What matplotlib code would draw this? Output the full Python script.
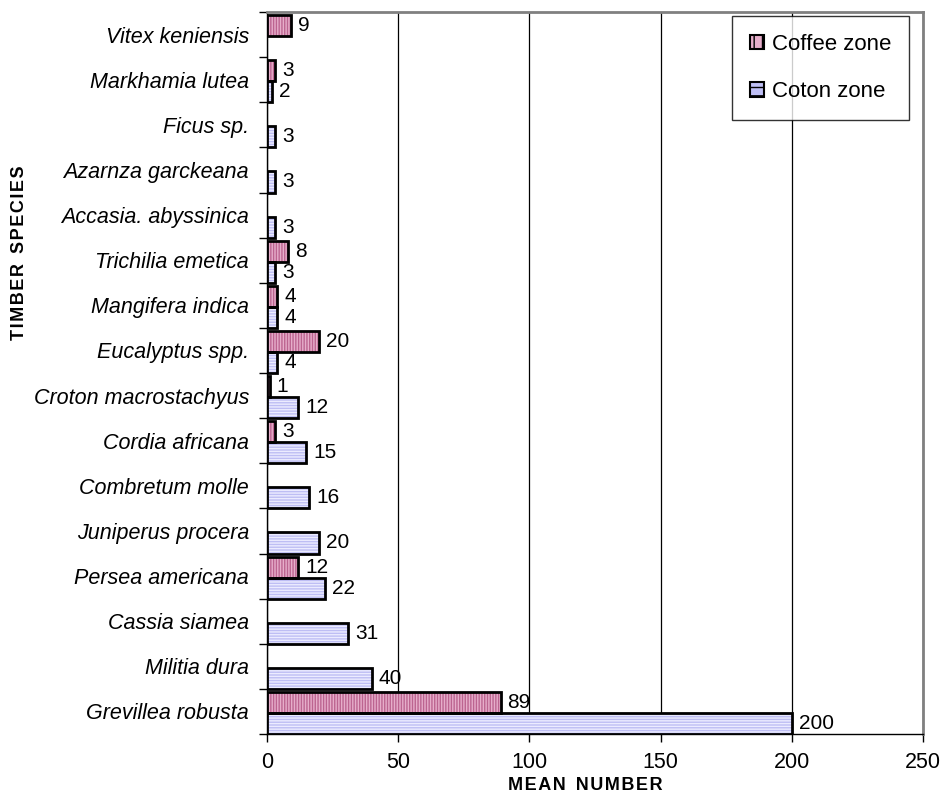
import matplotlib
matplotlib.use("Agg")
import matplotlib.pyplot as plt
import numpy as np
from matplotlib.patches import Patch

plt.rcParams['font.family'] = ['Liberation Sans', 'DejaVu Sans']
plt.rcParams['hatch.linewidth'] = 1.0

species = ["Grevillea robusta", "Militia dura", "Cassia siamea", "Persea americana",
           "Juniperus procera", "Combretum molle", "Cordia africana", "Croton macrostachyus",
           "Eucalyptus spp.", "Mangifera indica", "Trichilia emetica", "Accasia. abyssinica",
           "Azarnza garckeana", "Ficus sp.", "Markhamia lutea", "Vitex keniensis"]
coffee = [89, None, None, 12, None, None, 3, 1, 20, 4, 8, None, None, None, 3, 9]
coton = [200, 40, 31, 22, 20, 16, 15, 12, 4, 4, 3, 3, 3, 3, 2, None]
xticks = [0, 50, 100, 150, 200, 250]

fig = plt.figure(figsize=(9.42, 7.96), dpi=100)
ax = fig.add_axes([267/942, 1-734/796, (923-267)/942, (734-12)/796])

h = 0.466
y = np.arange(len(species))
coffee_face, coffee_hatch = '#E6AECA', '#BC6490'
coton_face, coton_hatch = '#BEBEF4', '#ECECFF'
fs = 15.5


def spaced(s):
    return '  '.join('\u200a'.join(w) for w in s.split(' '))


for i, (cf, ct) in enumerate(zip(coffee, coton)):
    if cf is not None:
        yc = i - 0.034 + h/2
        ax.barh(yc, cf, height=h, color=coffee_face, edgecolor=coffee_hatch,
                hatch='|'*6, linewidth=0, zorder=3)
        ax.barh(yc, cf, height=h, fill=False, edgecolor='black', linewidth=2, zorder=4)
        ax.annotate(str(cf), (cf, yc), xytext=(5, 0), textcoords='offset points',
                    va='center', ha='left', fontsize=15, zorder=5)
    if ct is not None:
        yc = i - 0.5 + h/2
        ax.barh(yc, ct, height=h, color=coton_face, edgecolor=coton_hatch,
                hatch='-'*6, linewidth=0, zorder=3)
        ax.barh(yc, ct, height=h, fill=False, edgecolor='black', linewidth=2, zorder=4)
        ax.annotate(str(ct), (ct, yc), xytext=(5, 0), textcoords='offset points',
                    va='center', ha='left', fontsize=15, zorder=5)

ax.set_xlim(0, 250)
ax.set_ylim(-0.5, len(species) - 0.5)
ax.set_xticks(xticks)
ax.set_xticklabels([str(t) for t in xticks], fontsize=fs)
ax.set_yticks(y)
ax.set_yticklabels(species, fontsize=fs, style='italic')
ax.set_yticks(np.arange(len(species) + 1) - 0.5, minor=True)
ax.tick_params(axis='y', which='major', length=0, pad=13)
ax.tick_params(axis='y', which='minor', length=6, width=1, direction='out')
ax.tick_params(axis='x', length=6, width=1, direction='out', pad=7)
ax.grid(axis='x', color='black', linewidth=0.9, zorder=0)
ax.set_axisbelow(True)

for s in ['top', 'right']:
    ax.spines[s].set_color('#808080')
    ax.spines[s].set_linewidth(2)
ax.spines['left'].set_linewidth(1)
ax.spines['bottom'].set_linewidth(1)

fig.text(585/942, 1-786/796, spaced('MEAN NUMBER'), fontsize=13, fontweight='bold',
         ha='center', va='center')
fig.text(20/942, 1-253/796, spaced('TIMBER SPECIES'), rotation=90, fontsize=13,
         fontweight='bold', ha='center', va='center')

handles = [Patch(facecolor=coffee_face, edgecolor='black', hatch='||', linewidth=1.5, label='Coffee zone'),
           Patch(facecolor=coton_face, edgecolor='black', hatch='--', linewidth=1.5, label='Coton zone')]
leg = ax.legend(handles=handles, loc='upper right', bbox_to_anchor=(909/942, 1-16/796),
                bbox_transform=fig.transFigure, fontsize=16, frameon=True, fancybox=False,
                edgecolor='black', labelspacing=1.2, handlelength=0.65, handleheight=0.65,
                handletextpad=0.35, borderpad=0.8, borderaxespad=0)
leg.get_frame().set_linewidth(1)
leg.set_zorder(10)

fig.savefig('out.png', dpi=100)
